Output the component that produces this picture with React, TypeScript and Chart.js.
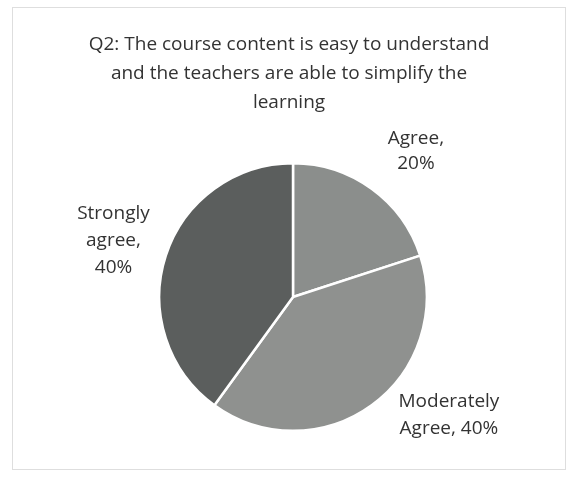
import React, { useEffect, useRef } from "react";
import { Chart, registerables } from "chart.js";

Chart.register(...registerables);

const titleLines = [
  "Q2: The course content is easy to understand",
  "and the teachers are able to simplify the",
  "learning",
];
const categories = ["Agree", "Moderately Agree", "Strongly agree"];
const values = [20, 40, 40];
const labelLines = [["Agree,", "20%"], ["Moderately", "Agree, 40%"], ["Strongly", "agree,", "40%"]];
const colors = ["#8b8e8c", "#8f918f", "#5b5e5d"];

const FONT = "'Open Sans', 'Liberation Sans', sans-serif";

const frame = {
  id: "frame",
  beforeDraw(chart: any) {
    const ctx = chart.ctx;
    ctx.save();
    ctx.fillStyle = "#ffffff";
    ctx.fillRect(0, 0, chart.width, chart.height);
    ctx.strokeStyle = "#dedede";
    ctx.lineWidth = 1;
    ctx.strokeRect(12.5, 7.5, 553, 462);
    ctx.fillStyle = "#333333";
    ctx.font = `19px ${FONT}`;
    ctx.textAlign = "center";
    ctx.textBaseline = "middle";
    titleLines.forEach((t, k) => ctx.fillText(t, 289, 45 + k * 29));
    ctx.restore();
  },
};

const pieLabels = {
  id: "pieLabels",
  afterDatasetsDraw(chart: any) {
    const ctx = chart.ctx;
    const meta = chart.getDatasetMeta(0);
    const adjust = [
      [12, 7],
      [45, -35],
      [0, 2],
    ];
    ctx.save();
    ctx.font = `19px ${FONT}`;
    ctx.fillStyle = "#333333";
    ctx.textAlign = "center";
    ctx.textBaseline = "middle";
    meta.data.forEach((arc: any, i: number) => {
      const p = arc.getProps(["x", "y", "startAngle", "endAngle", "outerRadius"], true);
      const mid = (p.startAngle + p.endAngle) / 2;
      const d = p.outerRadius + 55;
      const cx = p.x + Math.cos(mid) * d + adjust[i][0];
      const cy = p.y + Math.sin(mid) * d + adjust[i][1];
      const lines = labelLines[i];
      const lh = i === 0 ? 25 : 27;
      lines.forEach((t, k) => {
        ctx.fillText(t, cx, cy + (k - (lines.length - 1) / 2) * lh);
      });
    });
    ctx.restore();
  },
};

export default function App() {
  const ref = useRef<HTMLCanvasElement>(null);
  useEffect(() => {
    if (!ref.current) return;
    const chart = new Chart(ref.current, {
      type: "pie",
      data: {
        labels: categories,
        datasets: [
          {
            data: values,
            backgroundColor: colors,
            borderColor: "#ffffff",
            borderWidth: 2.5,
          },
        ],
      },
      options: {
        animation: false,
        responsive: false,
        layout: { padding: { left: 158, right: 143, top: 162, bottom: 48 } },
        plugins: {
          legend: { display: false },
          tooltip: { enabled: false },
          title: { display: false },
        },
      },
      plugins: [frame, pieLabels],
    });
    return () => chart.destroy();
  }, []);
  return (
    <div style={{ position: "fixed", left: 0, top: 0, width: 571, height: 480 }}>
      <canvas ref={ref} width={571} height={480} />
    </div>
  );
}
